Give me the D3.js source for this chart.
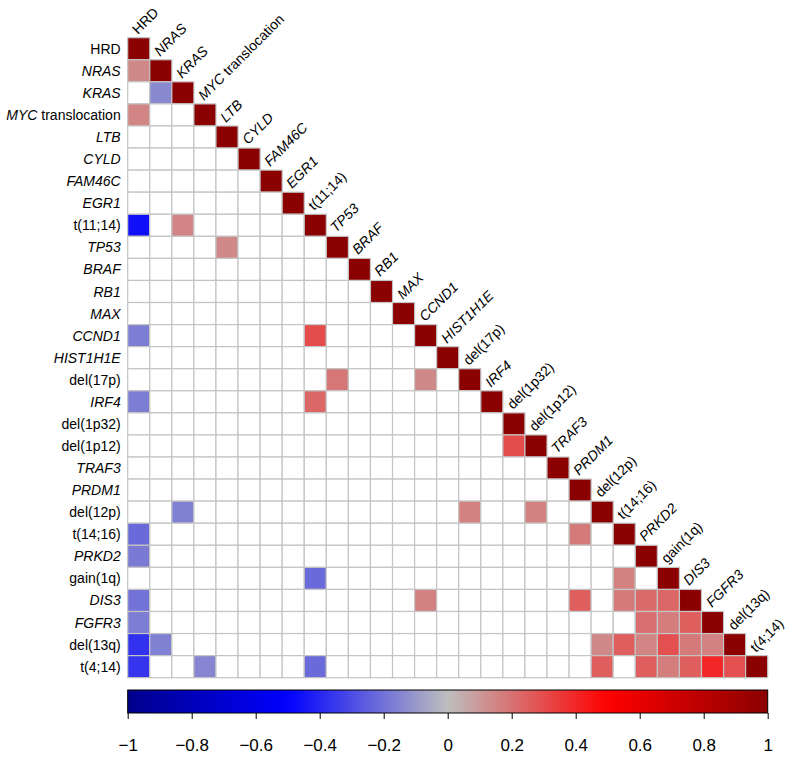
<!DOCTYPE html>
<html>
<head>
<meta charset="utf-8">
<script src="https://cdn.jsdelivr.net/npm/d3@7"></script>
<style>
  body { margin: 0; background: #fff; }
  #wrap { position: relative; width: 800px; height: 766px; }
  #chart { position: absolute; left: 0; top: 0; }
  text { font-family: Arial, "Liberation Sans", sans-serif; }
  .collab { position: absolute; font-family: Arial, "Liberation Sans", sans-serif; font-size: 14px;
    line-height: 14px; white-space: nowrap; color: #000; transform-origin: 0px 12px;
    transform: rotate(-45deg); }
</style>
</head>
<body>
<div id="wrap"><svg id="chart" width="800" height="766"></svg></div>
<script>
// ---- data ----
const labels = ["HRD","NRAS","KRAS","MYC translocation","LTB","CYLD","FAM46C","EGR1","t(11;14)","TP53",
  "BRAF","RB1","MAX","CCND1","HIST1H1E","del(17p)","IRF4","del(1p32)","del(1p12)","TRAF3",
  "PRDM1","del(12p)","t(14;16)","PRKD2","gain(1q)","DIS3","FGFR3","del(13q)","t(4;14)"];
const italic = [false,true,true,"MYC",true,true,true,true,false,true,
  true,true,true,true,true,false,true,false,false,true,
  true,false,false,true,false,true,true,false,false];
// lower-triangle correlations (0 = blank / not shown)
const r0  = [1];
const r1  = [0.14, 1];
const r2  = [0, -0.14, 1];
const r3  = [0.15, 0, 0, 1];
const r4  = [0, 0, 0, 0, 1];
const r5  = [0, 0, 0, 0, 0, 1];
const r6  = [0, 0, 0, 0, 0, 0, 1];
const r7  = [0, 0, 0, 0, 0, 0, 0, 1];
const r8  = [-0.46, 0, 0.15, 0, 0, 0, 0, 0, 1];
const r9  = [0, 0, 0, 0, 0.14, 0, 0, 0, 0, 1];
const r10 = [0, 0, 0, 0, 0, 0, 0, 0, 0, 0, 1];
const r11 = [0, 0, 0, 0, 0, 0, 0, 0, 0, 0, 0, 1];
const r12 = [0, 0, 0, 0, 0, 0, 0, 0, 0, 0, 0, 0, 1];
const r13 = [-0.17, 0, 0, 0, 0, 0, 0, 0, 0.3, 0, 0, 0, 0, 1];
const r14 = [0, 0, 0, 0, 0, 0, 0, 0, 0, 0, 0, 0, 0, 0, 1];
const r15 = [0, 0, 0, 0, 0, 0, 0, 0, 0, 0.19, 0, 0, 0, 0.14, 0, 1];
const r16 = [-0.17, 0, 0, 0, 0, 0, 0, 0, 0.23, 0, 0, 0, 0, 0, 0, 0, 1];
const r17 = [0, 0, 0, 0, 0, 0, 0, 0, 0, 0, 0, 0, 0, 0, 0, 0, 0, 1];
const r18 = [0, 0, 0, 0, 0, 0, 0, 0, 0, 0, 0, 0, 0, 0, 0, 0, 0, 0.3, 1];
const r19 = [0, 0, 0, 0, 0, 0, 0, 0, 0, 0, 0, 0, 0, 0, 0, 0, 0, 0, 0, 1];
const r20 = [0, 0, 0, 0, 0, 0, 0, 0, 0, 0, 0, 0, 0, 0, 0, 0, 0, 0, 0, 0, 1];
const r21 = [0, 0, -0.16, 0, 0, 0, 0, 0, 0, 0, 0, 0, 0, 0, 0, 0.16, 0, 0, 0.16, 0, 0, 1];
const r22 = [-0.22, 0, 0, 0, 0, 0, 0, 0, 0, 0, 0, 0, 0, 0, 0, 0, 0, 0, 0, 0, 0.18, 0, 1];
const r23 = [-0.18, 0, 0, 0, 0, 0, 0, 0, 0, 0, 0, 0, 0, 0, 0, 0, 0, 0, 0, 0, 0, 0, 0, 1];
const r24 = [0, 0, 0, 0, 0, 0, 0, 0, -0.22, 0, 0, 0, 0, 0, 0, 0, 0, 0, 0, 0, 0, 0, 0.16, 0, 1];
const r25 = [-0.2, 0, 0, 0, 0, 0, 0, 0, 0, 0, 0, 0, 0, 0.16, 0, 0, 0, 0, 0, 0, 0.25, 0, 0.18, 0.22, 0.23, 1];
const r26 = [-0.17, 0, 0, 0, 0, 0, 0, 0, 0, 0, 0, 0, 0, 0, 0, 0, 0, 0, 0, 0, 0, 0, 0, 0.21, 0.17, 0.25, 1];
const r27 = [-0.37, -0.16, 0, 0, 0, 0, 0, 0, 0, 0, 0, 0, 0, 0, 0, 0, 0, 0, 0, 0, 0, 0.14, 0.25, 0.15, 0.29, 0.18, 0.16, 1];
const r28 = [-0.36, 0, 0, -0.15, 0, 0, 0, 0, -0.22, 0, 0, 0, 0, 0, 0, 0, 0, 0, 0, 0, 0, 0.25, 0, 0.25, 0.17, 0.25, 0.4, 0.29, 1];
const corrRows = [r0,r1,r2,r3,r4,r5,r6,r7,r8,r9,r10,r11,r12,r13,r14,r15,r16,r17,r18,r19,r20,r21,r22,r23,r24,r25,r26,r27,r28];
const colorDomain = [-1, -0.5, 0, 0.5, 1];
const colorRange = ["#00008B", "#0000FF", "#BEBEBE", "#FF0000", "#8B0000"];
const legendTicks = [-1, -0.8, -0.6, -0.4, -0.2, 0, 0.2, 0.4, 0.6, 0.8, 1];
const legendTickLabels = ["\u22121", "\u22120.8", "\u22120.6", "\u22120.4", "\u22120.2", "0", "0.2", "0.4", "0.6", "0.8", "1"];

// ---- drawing ----
const svg = d3.select("#chart");
const x0 = 127.7, x1 = 767.7, y0 = 37.7, y1 = 677.7;
const idx = d3.range(labels.length);
const x = d3.scaleBand().domain(idx).range([x0, x1]);
const y = d3.scaleBand().domain(idx).range([y0, y1]);
const color = d3.scaleLinear().domain(colorDomain).range(colorRange).interpolate(d3.interpolateRgb);

const cells = [];
corrRows.forEach((row, i) => row.forEach((v, j) => cells.push({i, j, v})));

svg.append("g").selectAll("rect").data(cells).join("rect")
  .attr("x", d => x(d.j)).attr("y", d => y(d.i))
  .attr("width", x.bandwidth()).attr("height", y.bandwidth())
  .attr("fill", d => d.v === 0 ? "#ffffff" : color(d.v))
  .attr("stroke", "#c4c4c4").attr("stroke-width", 1.2);

function writeLabel(sel, i, tag) {
  const lab = labels[i], it = italic[i];
  if (it === "MYC") {
    sel.append(tag).style("font-style", "italic").text("MYC");
    sel.append(tag).style("font-style", "normal").text(lab.slice(3));
  } else {
    sel.style("font-style", it ? "italic" : "normal").text(lab);
  }
}

// row labels
idx.forEach(i => {
  const t = svg.append("text")
    .attr("x", x0 - 7).attr("y", y(i) + y.bandwidth() / 2)
    .attr("dy", "0.36em").attr("text-anchor", "end")
    .attr("font-size", 14).attr("fill", "#000");
  writeLabel(t, i, "tspan");
});

// column labels on the diagonal, rotated 45 degrees (HTML text with CSS rotation)
const wrap = d3.select("#wrap");
idx.forEach(i => {
  const cx = x(i) + x.bandwidth() / 2 - 1, ty = y(i) - 3;
  const d = wrap.append("div").attr("class", "collab")
    .style("left", cx + "px").style("top", (ty - 12) + "px");
  writeLabel(d, i, "span");
});

// colour legend
const defs = svg.append("defs");
const grad = defs.append("linearGradient").attr("id", "cbar").attr("x1", "0%").attr("x2", "100%");
d3.range(0, 1.0001, 0.02).forEach(f => {
  grad.append("stop").attr("offset", (f * 100) + "%").attr("stop-color", color(-1 + 2 * f));
});
const ly0 = 690, lh = 23;
svg.append("rect").attr("x", x0).attr("y", ly0).attr("width", x1 - x0).attr("height", lh)
  .attr("fill", "url(#cbar)").attr("stroke", "#000").attr("stroke-width", 1);
const lx = d3.scaleLinear().domain([-1, 1]).range([x0, x1]);
const axis = d3.axisBottom(lx).tickValues(legendTicks).tickSize(6).tickPadding(20)
  .tickFormat((d, k) => legendTickLabels[k]);
const ag = svg.append("g").attr("transform", `translate(0,${ly0 + lh})`).call(axis);
ag.select(".domain").remove();
ag.selectAll("line").attr("stroke", "#000");
ag.selectAll("text").attr("font-size", 17).attr("fill", "#000")
  .attr("font-family", 'Arial, "Liberation Sans", sans-serif');
</script>
</body>
</html>
